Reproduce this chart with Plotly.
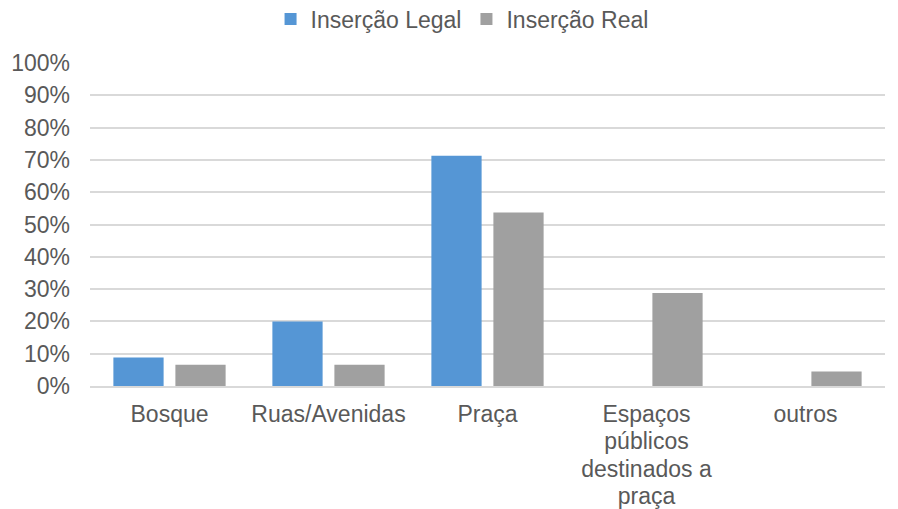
import plotly.graph_objects as go

categories = ["Bosque", "Ruas/Avenidas", "Praça",
              "Espaços<br>públicos<br>destinados a<br>praça", "outros"]
legal = [0.088, 0.20, 0.713, None, None]
real = [0.066, 0.066, 0.537, 0.288, 0.045]
y_ticks = [i / 10 for i in range(11)]
y_labels = [f"{i * 10}%" for i in range(11)]

font = dict(family="Liberation Sans, Arial, sans-serif", size=23, color="#595959")

# Category labels: glyphs at 23px, line pitch from a 21px base font
x_labels = ["<br>".join(f'<span style="font-size:23px">{part}</span>'
                        for part in c.split("<br>")) for c in categories]

fig = go.Figure()
fig.add_trace(go.Bar(name="Inserção Legal", x=categories, y=legal,
                     marker=dict(color="#5596d5", line=dict(width=0))))
fig.add_trace(go.Bar(name="Inserção Real", x=categories, y=real,
                     marker=dict(color="#a0a0a0", line=dict(width=0))))

fig.update_layout(
    width=898, height=509,
    margin=dict(l=90, r=13, t=63, b=123, autoexpand=False),
    paper_bgcolor="white", plot_bgcolor="white",
    font=font,
    barmode="group", bargap=0.22, bargroupgap=0.19,
    legend=dict(orientation="h", x=0.468, xanchor="center", y=1.136, yanchor="middle",
                font=font, itemwidth=30, traceorder="normal"),
    showlegend=True,
)
fig.update_yaxes(range=[0, 1], tickvals=y_ticks, ticktext=y_labels,
                 showgrid=True, gridcolor="#d9d9d9", gridwidth=1.5,
                 zeroline=False, showline=False, ticklabelstandoff=19,
                 automargin=False)
fig.update_xaxes(showline=True, linecolor="#d9d9d9", linewidth=1.5,
                 tickvals=categories, ticktext=x_labels,
                 tickfont=dict(family=font["family"], size=21, color="#595959"),
                 ticks="", ticklabelstandoff=9, tickangle=0, automargin=False)

fig.write_html("out.html")
